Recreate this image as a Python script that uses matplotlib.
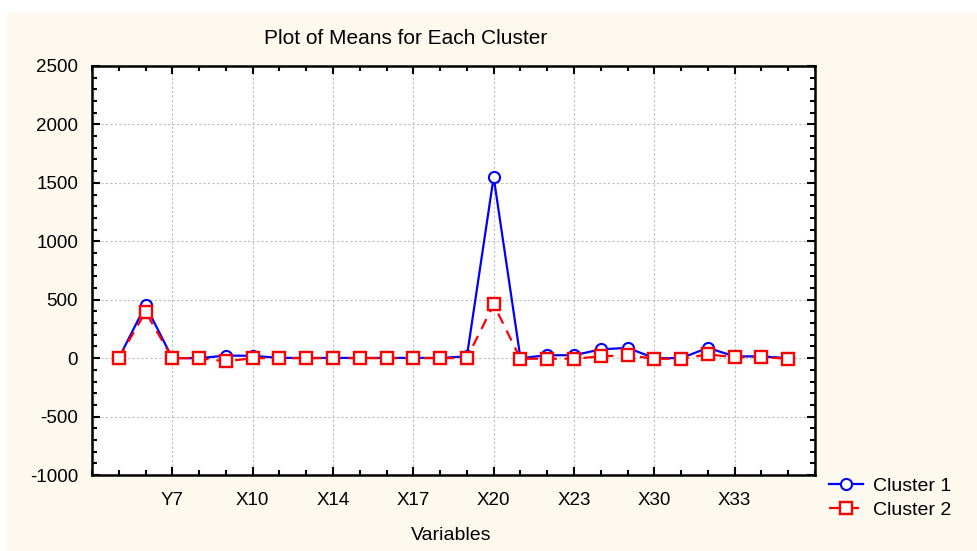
import matplotlib

matplotlib.use("Agg")
import matplotlib.pyplot as plt
from matplotlib.patches import Rectangle
from matplotlib.ticker import MultipleLocator
import numpy as np

plt.rcParams["font.family"] = ["Liberation Sans", "DejaVu Sans"]
plt.rcParams["axes.unicode_minus"] = False

# 26 variables, only every third one is labelled on the axis
tick_labels = ["Y7", "X10", "X14", "X17", "X20", "X23", "X30", "X33"]
tick_index = [2, 5, 8, 11, 14, 17, 20, 23]

cluster1 = [0, 452, 0, 0, 22, 20, 2, 2, 2, 2, 2, 2, 2, 15,
            1550, 0, 25, 25, 75, 88, 0, 0, 88, 15, 15, 0]
cluster2 = [0, 396, 0, 0, -28, 0, 0, 0, 0, 0, 0, 0, 0, 0,
            460, -5, -5, -5, 15, 25, -5, -5, 32, 8, 8, -5]

x = np.arange(len(cluster1))

fig = plt.figure(figsize=(9.78, 5.51), dpi=100)
# cream panel behind the whole chart (white strip on top/left)
fig.patches.append(Rectangle((7 / 978, 0), 1, 1 - 12 / 551,
                             transform=fig.transFigure,
                             facecolor="#fdf9ef", edgecolor="none", zorder=-10))

ax = fig.add_axes([92 / 978, 1 - 475 / 551, (815 - 92) / 978, (475 - 66) / 551])
ax.set_facecolor("white")

l1, = ax.plot(x, cluster1, color="#0000ff", lw=1.6, marker="o", ms=8,
              mfc="white", mec="#0000ff", mew=1.5, zorder=3)
l2, = ax.plot(x, cluster2, color="#ff0000", lw=1.6, ls=(0, (5, 3.5)),
              marker="s", ms=8.5, mfc="white", mec="#ff0000", mew=1.7, zorder=4)

ax.set_xlim(-1, 26)
ax.set_ylim(-1000, 2500)
ax.set_xticks(tick_index)
ax.set_xticklabels(tick_labels)
ax.xaxis.set_minor_locator(MultipleLocator(1))
ax.yaxis.set_major_locator(MultipleLocator(500))
ax.yaxis.set_minor_locator(MultipleLocator(100))

ax.tick_params(which="both", direction="in", top=True, right=True,
               labelsize=13.5, colors="black", width=1.5)
ax.tick_params(which="major", length=6)
ax.tick_params(which="minor", length=3.5)
ax.tick_params(axis="x", pad=12)
ax.tick_params(axis="y", pad=10)
for s in ax.spines.values():
    s.set_linewidth(1.8)

ax.grid(True, which="major", color="#bdbdbd", ls=(0, (2, 2)), lw=0.8)
ax.set_axisbelow(True)

fig.text(406 / 978, 1 - 38 / 551, "Plot of Means for Each Cluster",
         ha="center", va="center", fontsize=15)
fig.text(451 / 978, 1 - 536 / 551, "Variables", ha="center", va="center",
         fontsize=14)

fig.legend([l1, l2], ["Cluster 1", "Cluster 2"], loc="center left",
           bbox_to_anchor=(829 / 978, 1 - 498 / 551), frameon=False,
           fontsize=14, handlelength=1.75, handletextpad=0.5,
           labelspacing=0.35, borderpad=0, borderaxespad=0)

fig.savefig("out.png", dpi=100)
